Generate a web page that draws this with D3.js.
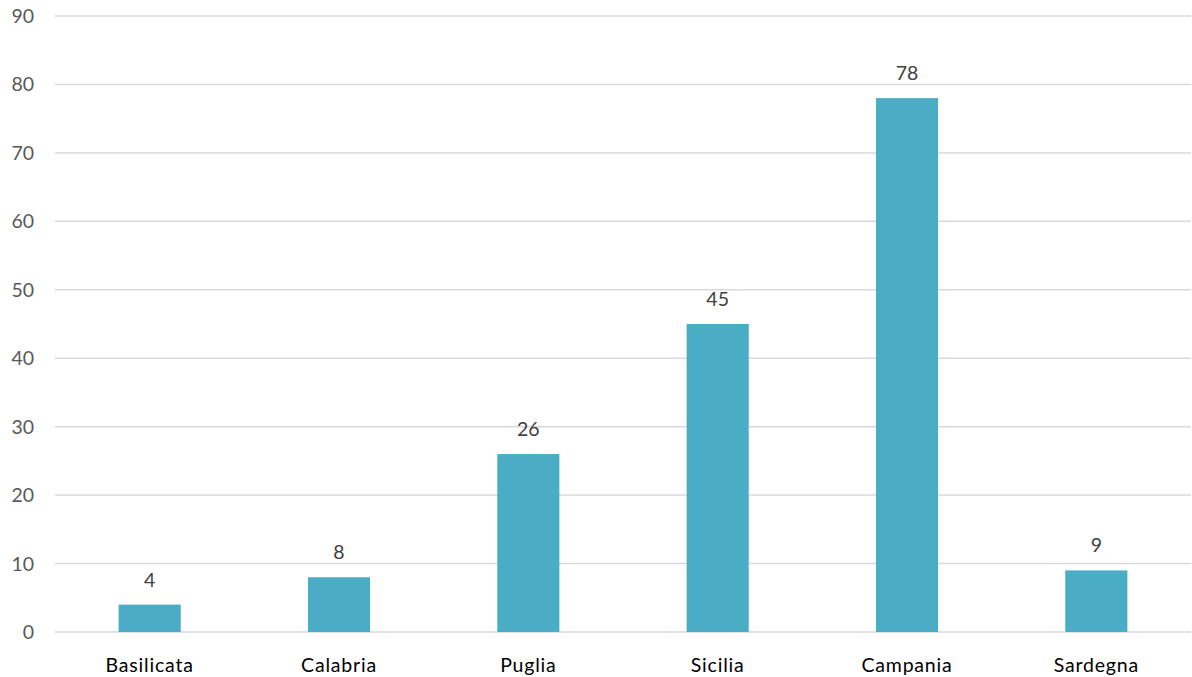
<!DOCTYPE html>
<html><head><meta charset="utf-8">
<script src="https://cdn.jsdelivr.net/npm/d3@7"></script>
<style>body{margin:0;background:#fff;} text{font-family:Lato, "Open Sans", sans-serif;}</style>
</head><body>
<svg id="c" width="1192" height="677"></svg>
<script>
const categories = ["Basilicata","Calabria","Puglia","Sicilia","Campania","Sardegna"];
const values = [4,8,26,45,78,9];
const yTicks = [0,10,20,30,40,50,60,70,80,90];

(function(){
const svg = d3.select("#c");
const mLeft = 55, mRight = 1191, mTop = 16, mBottom = 632;
const x = d3.scaleBand().domain(categories).range([mLeft, mRight]).paddingInner(0.672).paddingOuter(0.336);
const y = d3.scaleLinear().domain([0,90]).range([mBottom, mTop]);

svg.append("g").selectAll("line").data(yTicks).join("line")
  .attr("x1", mLeft).attr("x2", mRight)
  .attr("y1", d=>y(d)).attr("y2", d=>y(d))
  .attr("stroke", "#d9d9d9").attr("stroke-width", 1.5);

svg.append("g").selectAll("text").data(yTicks).join("text")
  .attr("x", 34).attr("y", d=>y(d)).attr("dy","0.36em")
  .attr("text-anchor","end").attr("fill","#595959").attr("font-size",19.5)
  .text(d=>d);

svg.append("g").selectAll("rect").data(values).join("rect")
  .attr("x",(d,i)=>x(categories[i])).attr("width",x.bandwidth())
  .attr("y",d=>y(d)).attr("height",d=>y(0)-y(d))
  .attr("fill","#4BACC6");

svg.append("g").selectAll("text").data(values).join("text")
  .attr("x",(d,i)=>x(categories[i])+x.bandwidth()/2)
  .attr("y",d=>y(d)-25).attr("dy","0.36em")
  .attr("text-anchor","middle").attr("fill","#404040").attr("font-size",19.5)
  .text(d=>d);

svg.append("g").selectAll("text").data(categories).join("text")
  .attr("x",d=>x(d)+x.bandwidth()/2).attr("y",665).attr("dy","0.36em")
  .attr("text-anchor","middle").attr("fill","#000").attr("font-size",19.5)
  .attr("letter-spacing", 0.8)
  .text(d=>d);
})();
</script>
</body></html>
